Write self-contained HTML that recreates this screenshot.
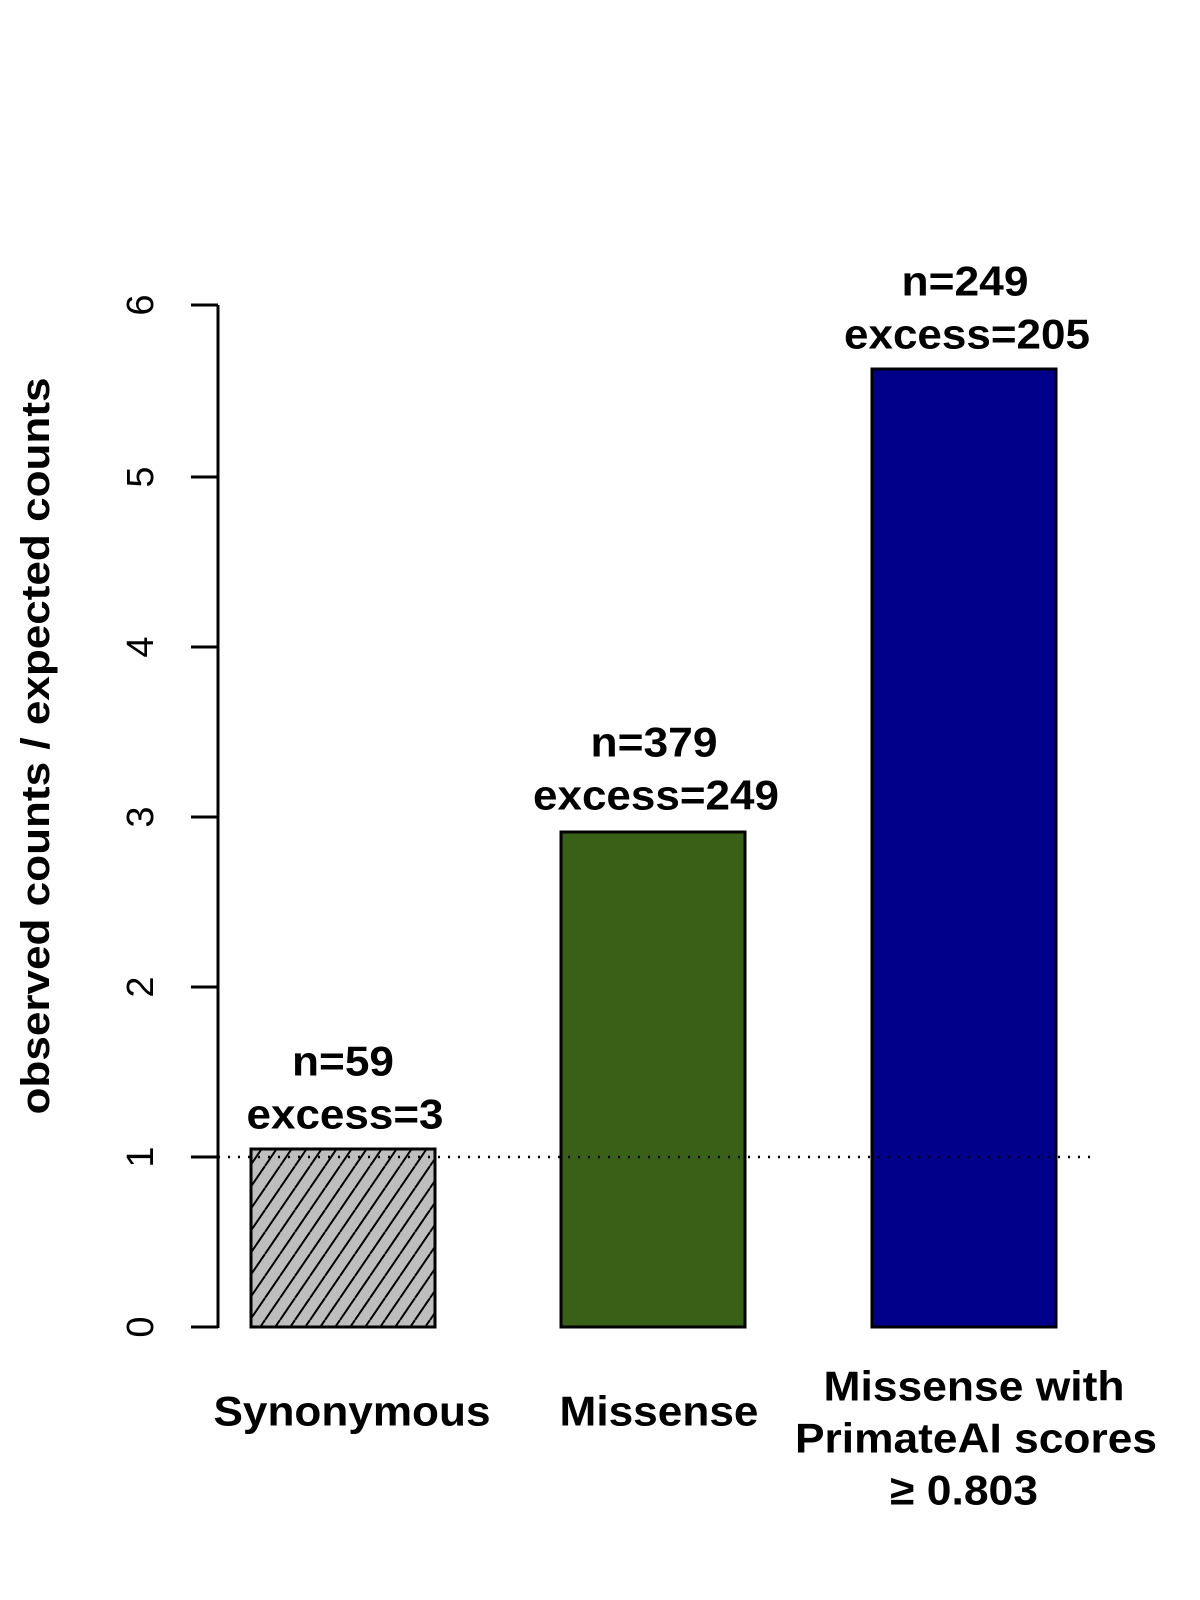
<!DOCTYPE html>
<html><head><style>body{margin:0;background:#fff}svg{display:block}</style></head>
<body>
<svg width="1200" height="1600" viewBox="0 0 1200 1600" xmlns="http://www.w3.org/2000/svg" font-family="Liberation Sans, Arial, sans-serif">
<defs>
<pattern id="h" patternUnits="userSpaceOnUse" width="15" height="22" patternTransform="translate(250,0)">
<line x1="0" y1="22" x2="15" y2="0" stroke="#000" stroke-width="2"/>
<line x1="-15" y1="22" x2="0" y2="0" stroke="#000" stroke-width="2"/>
<line x1="15" y1="22" x2="30" y2="0" stroke="#000" stroke-width="2"/>
</pattern>
</defs>
<!-- axis -->
<line x1="218" y1="305" x2="218" y2="1328" stroke="#000" stroke-width="3"/>
<g stroke="#000" stroke-width="3">
<line x1="191" y1="1327" x2="218" y2="1327"/>
<line x1="191" y1="1157" x2="218" y2="1157"/>
<line x1="191" y1="987" x2="218" y2="987"/>
<line x1="191" y1="817" x2="218" y2="817"/>
<line x1="191" y1="647" x2="218" y2="647"/>
<line x1="191" y1="477" x2="218" y2="477"/>
<line x1="191" y1="305" x2="218" y2="305"/>
</g>
<g font-size="38" text-anchor="middle" dominant-baseline="central">
<text transform="translate(141,1327) rotate(-90)">0</text>
<text transform="translate(141,1157) rotate(-90)">1</text>
<text transform="translate(141,987) rotate(-90)">2</text>
<text transform="translate(141,817) rotate(-90)">3</text>
<text transform="translate(141,647) rotate(-90)">4</text>
<text transform="translate(141,477) rotate(-90)">5</text>
<text transform="translate(141,305) rotate(-90)">6</text>
</g>
<text transform="translate(36,746) rotate(-90)" font-size="40" font-weight="bold" text-anchor="middle" dominant-baseline="central" textLength="737" lengthAdjust="spacingAndGlyphs">observed counts / expected counts</text>
<!-- bars -->
<rect x="251" y="1149" width="184" height="178" fill="#bebebe" stroke="#000" stroke-width="3"/>
<rect x="251" y="1149" width="184" height="178" fill="url(#h)" stroke="#000" stroke-width="3"/>
<rect x="561" y="832" width="184" height="495" fill="#386117" stroke="#000" stroke-width="3"/>
<rect x="872" y="369" width="184" height="958" fill="#00008b" stroke="#000" stroke-width="3"/>
<line x1="218" y1="1157" x2="1090" y2="1157" stroke="#000" stroke-width="2.5" stroke-dasharray="2,8"/>
<!-- labels -->
<g font-size="42" font-weight="bold" text-anchor="middle" dominant-baseline="central">
<text x="343" y="1061" textLength="102" lengthAdjust="spacingAndGlyphs">n=59</text>
<text x="345" y="1114" textLength="197" lengthAdjust="spacingAndGlyphs">excess=3</text>
<text x="654" y="742" textLength="127" lengthAdjust="spacingAndGlyphs">n=379</text>
<text x="656" y="795" textLength="246" lengthAdjust="spacingAndGlyphs">excess=249</text>
<text x="965" y="281" textLength="127" lengthAdjust="spacingAndGlyphs">n=249</text>
<text x="967" y="334" textLength="246" lengthAdjust="spacingAndGlyphs">excess=205</text>
<text x="352" y="1411" textLength="277" lengthAdjust="spacingAndGlyphs">Synonymous</text>
<text x="659" y="1411" textLength="199" lengthAdjust="spacingAndGlyphs">Missense</text>
<text x="974" y="1386" textLength="301" lengthAdjust="spacingAndGlyphs">Missense with</text>
<text x="976" y="1438" textLength="362" lengthAdjust="spacingAndGlyphs">PrimateAI scores</text>
<text x="964" y="1490" textLength="148" lengthAdjust="spacingAndGlyphs">≥ 0.803</text>
</g>
</svg>
</body></html>
